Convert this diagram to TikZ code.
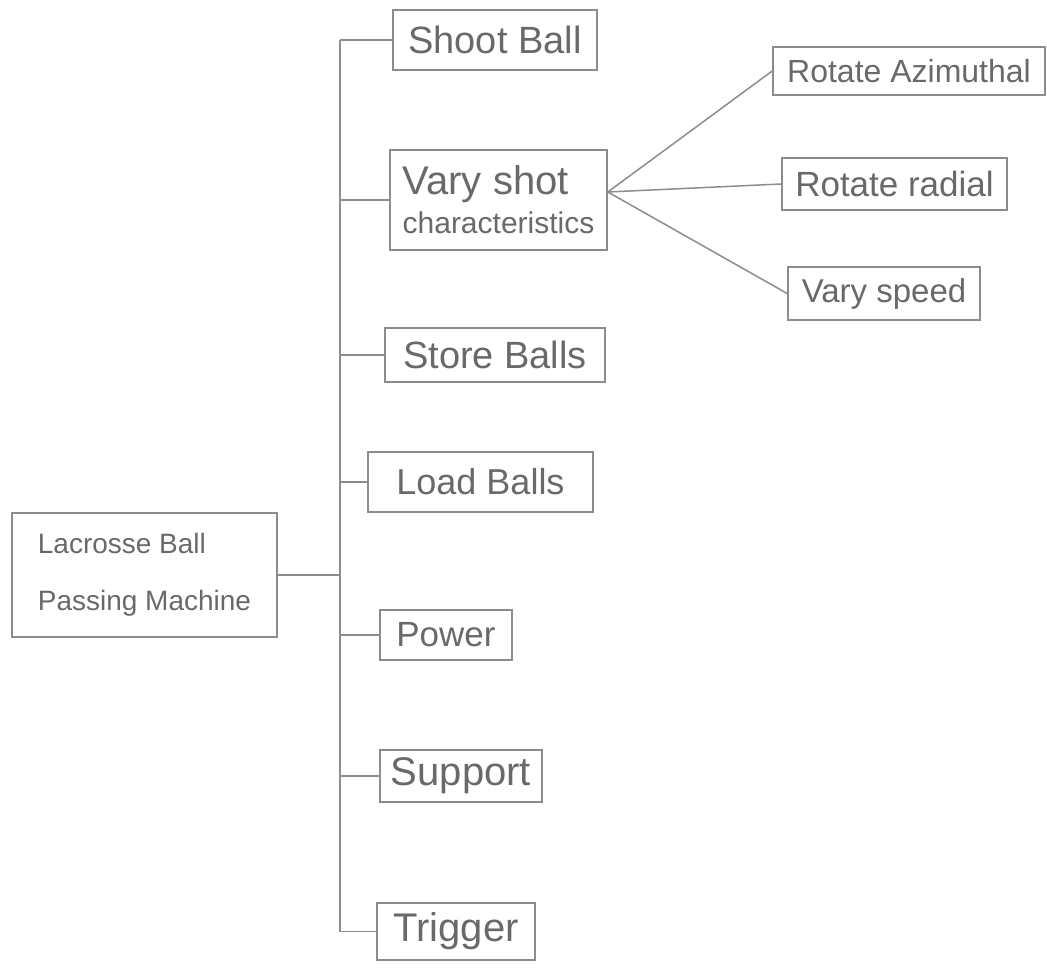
\documentclass[tikz,border=0pt]{standalone}
\usepackage{fontspec}
\setmainfont{Liberation Sans}
\definecolor{pencil}{RGB}{140,140,140}
\definecolor{ink}{RGB}{105,105,105}
\tikzset{
  box/.style={draw=pencil, line width=1.6pt, rectangle, inner sep=0pt, text=ink},
  wire/.style={draw=pencil, line width=1.5pt}
}
\newcommand{\fs}[2]{\fontsize{#1}{#2}\selectfont}
\begin{document}
\begin{tikzpicture}[x=1pt,y=-1pt]
\useasboundingbox (0,0) rectangle (1047,969);
% level 0
\node[box, minimum width=265pt, minimum height=124pt, align=left, font=\fs{28}{57}] (main) at (144.5,575) {Lacrosse Ball\\Passing Machine};
% level 1
\node[box, minimum width=204pt, minimum height=60pt, font=\fs{38}{40}] (shoot) at (495,40) {Shoot Ball};
\node[box, minimum width=217pt, minimum height=100pt, align=left] (vary) at (498.5,200) {{\fs{40}{40}Vary shot}\\[8pt]{\fs{30}{40}characteristics}};
\node[box, minimum width=220pt, minimum height=54pt, font=\fs{38}{40}] (store) at (495,355) {Store Balls};
\node[box, minimum width=225pt, minimum height=60pt, font=\fs{36}{40}] (load) at (480.5,482) {Load Balls};
\node[box, minimum width=132pt, minimum height=50pt, font=\fs{35}{40}] (power) at (446,635) {Power};
\node[box, minimum width=162pt, minimum height=52pt, font=\fs{40}{40}] (support) at (461,776) {Support};
\node[box, minimum width=158pt, minimum height=57pt, font=\fs{40}{40}] (trigger) at (456,931.5) {Trigger};
% level 2
\node[box, minimum width=272pt, minimum height=48pt, font=\fs{32}{40}] (azim) at (909,71) {Rotate Azimuthal};
\node[box, minimum width=225pt, minimum height=52pt, font=\fs{35}{40}] (radial) at (894.5,184) {Rotate radial};
\node[box, minimum width=192pt, minimum height=53pt, font=\fs{33}{40}] (speed) at (884,293.5) {Vary speed};
% trunk
\coordinate (ttop) at (340,40);
\coordinate (tbot) at (340,931.5);
\draw[wire] (ttop) -- (tbot);
\draw[wire] (main.east) -- (main.east -| ttop);
\foreach \n in {shoot,vary,store,load,power,support,trigger}{
  \draw[wire] (\n.west -| ttop) -- (\n.west);
}
% fan
\coordinate (hub) at ([yshift=8pt]vary.east);
\draw[wire] (hub) -- (azim.west);
\draw[wire] (hub) -- (radial.west);
\draw[wire] (hub) -- (speed.west);
\end{tikzpicture}
\end{document}
